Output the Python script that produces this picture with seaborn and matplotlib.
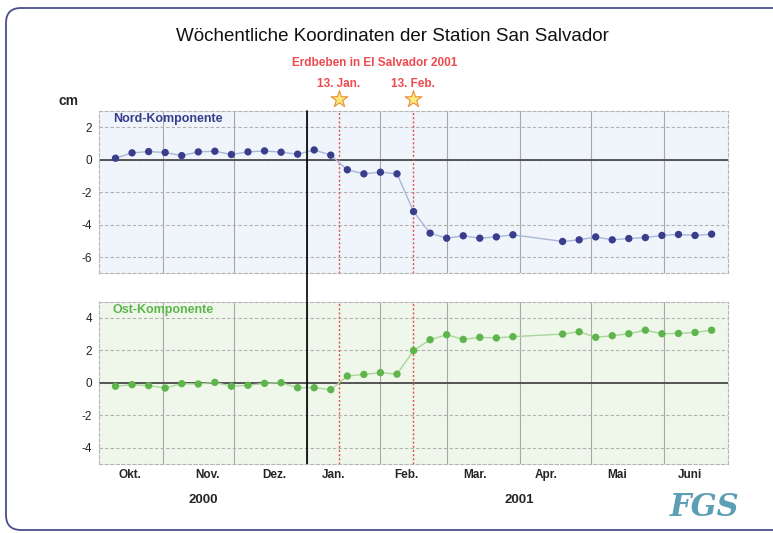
import pandas as pd
import matplotlib.pyplot as plt
import matplotlib.dates as mdates
import matplotlib.transforms as mtransforms
from matplotlib.patches import FancyBboxPatch
import seaborn as sns

# =============================================================================
# 1. DATA (weekly station coordinates, cm)
# =============================================================================
dates = [
    "2000-10-12", "2000-10-19", "2000-10-26", "2000-11-02", "2000-11-09",
    "2000-11-16", "2000-11-23", "2000-11-30", "2000-12-07", "2000-12-14",
    "2000-12-21", "2000-12-28", "2001-01-04", "2001-01-11", "2001-01-18",
    "2001-01-25", "2001-02-01", "2001-02-08", "2001-02-15", "2001-02-22",
    "2001-03-01", "2001-03-08", "2001-03-15", "2001-03-22", "2001-03-29",
    "2001-04-19", "2001-04-26", "2001-05-03", "2001-05-10", "2001-05-17",
    "2001-05-24", "2001-05-31", "2001-06-07", "2001-06-14", "2001-06-21",
]
nord = [
    0.08, 0.41, 0.49, 0.43, 0.24, 0.47, 0.51, 0.31, 0.47, 0.53,
    0.45, 0.33, 0.59, 0.27, -0.63, -0.88, -0.78, -0.88, -3.20, -4.53,
    -4.84, -4.69, -4.84, -4.76, -4.63, -5.04, -4.94, -4.76, -4.94, -4.86,
    -4.80, -4.67, -4.61, -4.67, -4.59,
]
ost = [
    -0.22, -0.12, -0.18, -0.33, -0.06, -0.08, 0.02, -0.22, -0.16, -0.04,
    0.00, -0.31, -0.31, -0.43, 0.41, 0.51, 0.62, 0.53, 1.98, 2.65,
    2.96, 2.67, 2.80, 2.76, 2.84, 3.00, 3.14, 2.80, 2.90, 3.02,
    3.24, 3.02, 3.04, 3.10, 3.24,
]

month_starts = ["2000-11-01", "2000-12-01", "2001-01-01", "2001-02-01", "2001-03-01",
                "2001-04-01", "2001-05-01", "2001-06-01"]
month_label_dates = ["2000-10-18", "2000-11-20", "2000-12-18", "2001-01-12", "2001-02-12",
                     "2001-03-13", "2001-04-12", "2001-05-12", "2001-06-12"]
month_labels = ["Okt.", "Nov.", "Dez.", "Jan.", "Feb.", "Mar.", "Apr.", "Mai", "Juni"]

quake_dates = ["2001-01-14 12:00", "2001-02-14 18:00"]
quake_labels = ["13. Jan.", "13. Feb."]

x_range = ["2000-10-05", "2001-06-28"]
year_boundary = "2001-01-01"

df = pd.DataFrame({"Datum": pd.to_datetime(dates), "Nord": nord, "Ost": ost})

# =============================================================================
# 2. STYLE
# =============================================================================
sns.set_style("white")
plt.rcParams['font.family'] = ['Liberation Sans', 'DejaVu Sans']
plt.rcParams['axes.unicode_minus'] = False

NAVY = '#3a3d8c'
GREEN = '#5db54b'
RED = '#ee4a4e'

fig = plt.figure(figsize=(7.73, 5.33), dpi=100)
ax_n = fig.add_axes([0.128, 0.4872, 0.814, 0.305])
ax_o = fig.add_axes([0.128, 0.130, 0.814, 0.304])

panels = [
    (ax_n, "Nord", "Nord-Komponente", NAVY, '#a9b6d8', '#eff5fb', (-7, 3), [-6, -4, -2, 0, 2]),
    (ax_o, "Ost", "Ost-Komponente", GREEN, '#a9d69a', '#eef7ea', (-5, 5), [-4, -2, 0, 2, 4]),
]

xlim = pd.to_datetime(x_range)
for ax, col, name, c_pt, c_line, bg, ylim, yticks in panels:
    ax.set_facecolor(bg)
    sns.lineplot(data=df, x="Datum", y=col, ax=ax, color=c_line, lw=1.0, zorder=3)
    sns.scatterplot(data=df, x="Datum", y=col, ax=ax, color=c_pt, s=28,
                    edgecolor='none', zorder=4)

    ax.set_xlim(xlim)
    ax.set_ylim(*ylim)
    ax.set_yticks(yticks)
    ax.set_xlabel('')
    ax.set_ylabel('')

    # month grid + ticks
    ax.set_xticks(pd.to_datetime(month_starts))
    ax.set_xticks(pd.to_datetime(month_label_dates), minor=True)
    ax.grid(axis='x', which='major', color='#a8a8a8', lw=0.8, ls='-')
    ax.grid(axis='y', which='major', color='#b0b0b0', lw=0.8, ls=(0, (3, 2)))
    ax.axhline(0, color='#4a4a4a', lw=1.3, zorder=2)

    for q in quake_dates:
        ax.axvline(pd.Timestamp(q), color=RED, lw=1.0, ls=(0, (1.5, 1.5)), zorder=2)

    for s in ax.spines.values():
        s.set_color('#b5b5b5')
        s.set_linewidth(0.8)
        s.set_linestyle((0, (3, 2)))

    ax.tick_params(axis='y', labelsize=8.5, length=3, color='#999999', labelcolor='#222222', pad=2)
    ax.text(0.022, 0.95, name, transform=ax.transAxes, color=c_pt, fontsize=9,
            fontweight='bold', ha='left', va='center')

# x tick labels only on the lower panel
ax_n.tick_params(axis='x', which='both', length=0, labelbottom=False)
ax_o.tick_params(axis='x', which='major', length=6, color='#999999', labelbottom=False)
ax_o.tick_params(axis='x', which='minor', length=0, labelsize=8.5, pad=4)
ax_o.set_xticklabels(month_labels, minor=True, fontweight='bold')

# year boundary line runs through both panels and the gap
yb = pd.Timestamp(year_boundary)
ax_n.axvline(yb, ymin=-0.18, ymax=1, color='black', lw=1.2, clip_on=False, zorder=5)
ax_o.axvline(yb, color='black', lw=1.2, zorder=5)

# earthquake stars and labels above upper panel
trans = mtransforms.blended_transform_factory(ax_n.transData, ax_n.transAxes)
for q, lab in zip(quake_dates, quake_labels):
    xq = mdates.date2num(pd.Timestamp(q))
    ax_n.scatter([xq], [1.07], marker='*', s=160, color='#fbea78', edgecolor='#e8913a',
                 linewidth=0.8, transform=trans, clip_on=False, zorder=6)
    ax_n.text(xq, 1.165, lab, transform=trans, color=RED, fontsize=8.5,
              fontweight='bold', ha='center', va='center')

# =============================================================================
# 3. TEXT & FRAME
# =============================================================================
fig.text(0.508, 0.931, 'Wöchentliche Koordinaten der Station San Salvador',
         fontsize=13.5, ha='center', va='center', color='#111111')
fig.text(0.485, 0.882, 'Erdbeben in El Salvador 2001', fontsize=8.5,
         fontweight='bold', color=RED, ha='center', va='center')
fig.text(0.088, 0.810, 'cm', fontsize=10, fontweight='bold', ha='center', va='center')
fig.text(0.263, 0.062, '2000', fontsize=9.5, fontweight='bold', ha='center', va='center')
fig.text(0.672, 0.062, '2001', fontsize=9.5, fontweight='bold', ha='center', va='center')
fig.text(0.912, 0.048, 'FGS', fontsize=22, fontweight='bold', fontstyle='italic',
         family='DejaVu Serif', color='#3f8ea8', ha='center', va='center', alpha=0.85)

frame = FancyBboxPatch((0.06, 0.03), 8.2, 5.22, boxstyle='round,pad=0,rounding_size=0.15',
                       transform=fig.dpi_scale_trans, fill=False, edgecolor='#4a4f8a',
                       lw=1.3, clip_on=False)
fig.patches.append(frame)

plt.savefig('out.png', dpi=100)
plt.close(fig)
